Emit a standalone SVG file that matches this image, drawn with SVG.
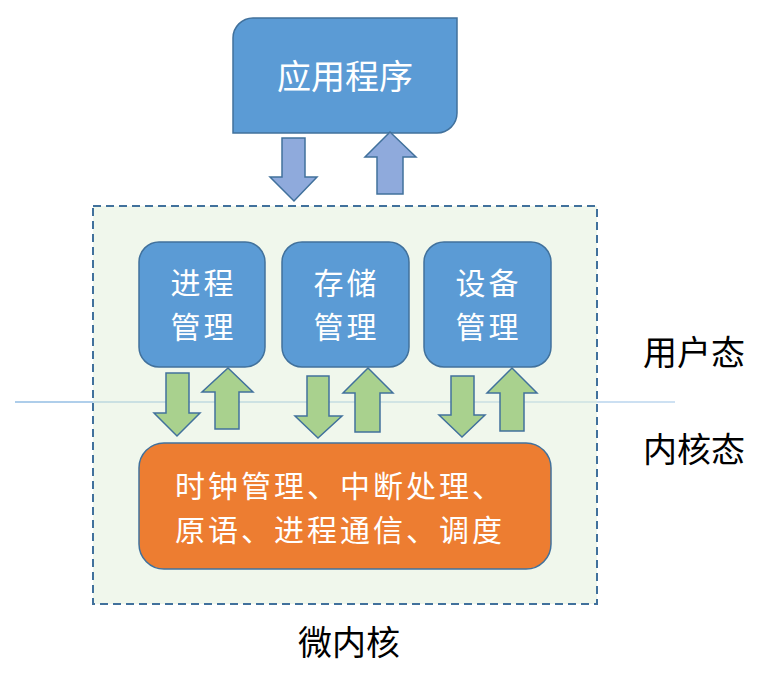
<svg xmlns="http://www.w3.org/2000/svg" width="766" height="674" viewBox="0 0 766 674">
<style>
text{font-family:"Noto Sans CJK SC","Liberation Sans",sans-serif;font-size:34px}
.w{fill:#ffffff}
.m{font-size:30px;letter-spacing:3px}
.k{fill:#000000}
.blue{fill:#5B9BD5;stroke:#41719C;stroke-width:1.5}
.orange{fill:#ED7D31;stroke:#41719C;stroke-width:1.5}
.arrB{fill:#8FAADC;stroke:#41719C;stroke-width:1.5}
.arrG{fill:#A9D18E;stroke:#41719C;stroke-width:1.5}
</style>
<defs>
<linearGradient id="lg" gradientUnits="userSpaceOnUse" x1="15" y1="402" x2="675" y2="402">
<stop offset="0" stop-color="#5B9BD5"/>
<stop offset="1" stop-color="#9DC3E6"/>
</linearGradient>
</defs>
<rect width="766" height="674" fill="#ffffff"/>
<line id="divider" x1="15" y1="402" x2="675" y2="402" stroke="url(#lg)" stroke-width="1.2"/>
<g id="microkernel">
<rect x="93" y="206" width="504" height="398" fill="#E2EFD9" fill-opacity="0.5" stroke="#41719C" stroke-width="2" stroke-dasharray="8,5"/>
<text class="k" x="349" y="655" text-anchor="middle">微内核</text>
</g>
<g id="app">
<path class="blue" d="M233,133 L233,38 A20,20 0 0 1 253,18 L457,18 L457,113 A20,20 0 0 1 437,133 Z"/>
<text class="w" x="345" y="89" text-anchor="middle">应用程序</text>
</g>
<g id="proc">
<rect class="blue" x="139" y="242" width="126" height="125" rx="20"/>
<text class="w m" text-anchor="middle"><tspan x="203.5" y="294">进程</tspan><tspan x="203.5" y="338">管理</tspan></text>
</g>
<g id="mem">
<rect class="blue" x="282" y="242" width="127" height="125" rx="20"/>
<text class="w m" text-anchor="middle"><tspan x="346.5" y="294">存储</tspan><tspan x="346.5" y="338">管理</tspan></text>
</g>
<g id="dev">
<rect class="blue" x="424" y="242" width="127" height="125" rx="20"/>
<text class="w m" text-anchor="middle"><tspan x="488.5" y="294">设备</tspan><tspan x="488.5" y="338">管理</tspan></text>
</g>
<g id="kernel">
<rect class="orange" x="139" y="443" width="412" height="126" rx="25"/>
<text class="w m"><tspan x="175" y="497">时钟管理、中断处理、</tspan><tspan x="175" y="541">原语、进程通信、调度</tspan></text>
</g>
<g id="user-label"><text class="k" x="643" y="365">用户态</text></g>
<g id="kernel-label"><text class="k" x="643" y="462">内核态</text></g>
<g id="connectors">
<polygon class="arrB" points="282,138 305,138 305,177 317,177 294,201 270,177 282,177"/>
<polygon class="arrB" points="377,194 403,194 403,157 416,157 390,132 365,157 377,157"/>
<polygon class="arrG" points="166,373 189,373 189,413 200,413 177,436 154,413 166,413"/>
<polygon class="arrG" points="215,429 239,429 239,392 253,392 228,368 202,392 215,392"/>
<polygon class="arrG" points="307,376 329,376 329,416 342,416 318,438 295,416 307,416"/>
<polygon class="arrG" points="355,432 380,432 380,393 393,393 368,368 343,393 355,393"/>
<polygon class="arrG" points="451,376 474,376 474,415 485,415 462,437 439,415 451,415"/>
<polygon class="arrG" points="500,431 524,431 524,393 537,393 512,368 487,393 500,393"/>
</g>
</svg>
